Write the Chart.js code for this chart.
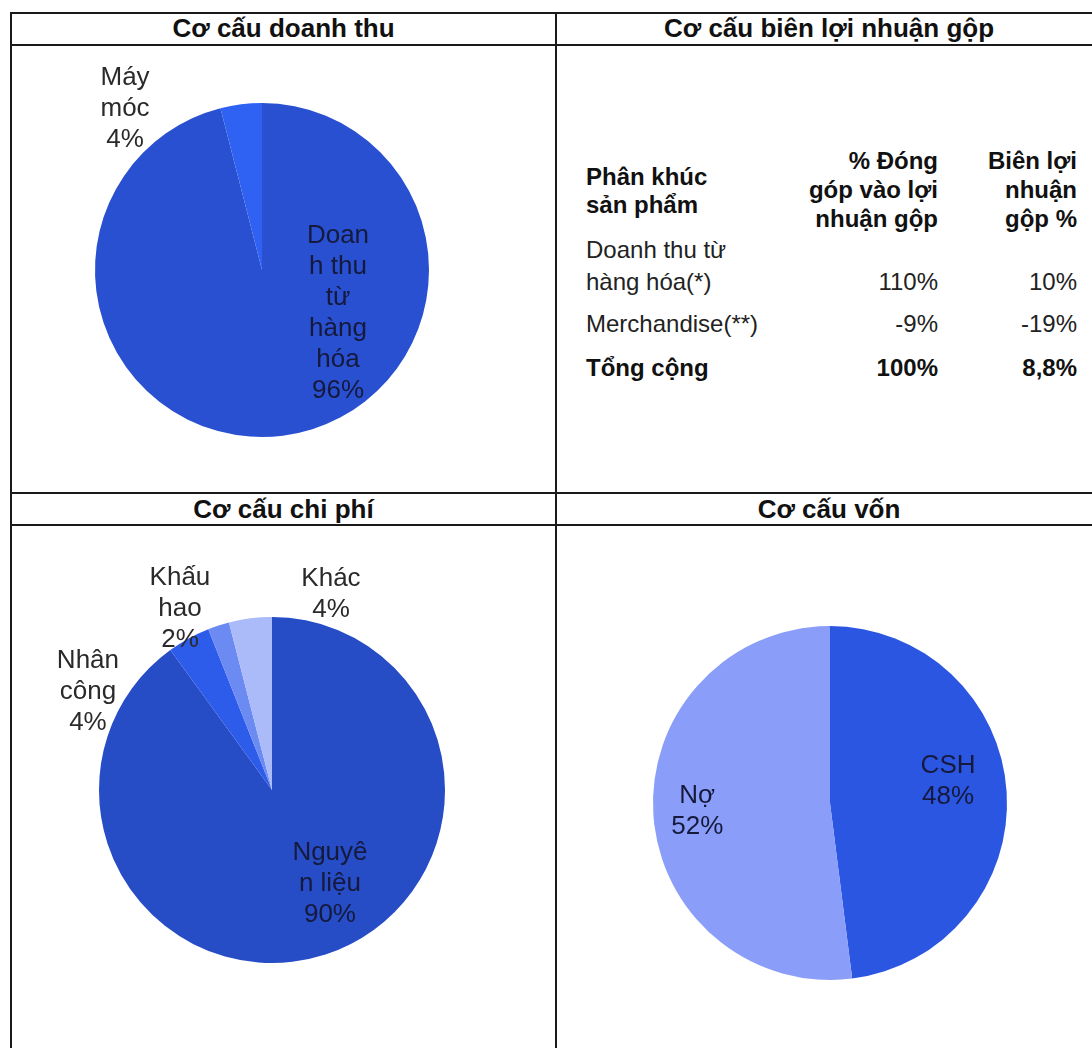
<!DOCTYPE html>
<html>
<head>
<meta charset="utf-8">
<script src="https://cdn.jsdelivr.net/npm/chart.js@4"></script>
<style>
  html, body { margin:0; padding:0; background:#fff; }
  body { width:1092px; height:1048px; overflow:hidden; position:relative; font-family:"Liberation Sans", Arial, sans-serif; color:#1e1e1e; }
  .ln { position:absolute; background:#1a1a1a; }
  .title { position:absolute; text-align:center; font-weight:bold; font-size:26px; line-height:31px; white-space:nowrap; color:#111; }
  canvas { position:absolute; }
  .cell { position:absolute; font-size:24px; line-height:29px; white-space:nowrap; color:#222; }
  .b { font-weight:bold; color:#111; }
</style>
</head>
<body>
<!-- frame -->
<div class="ln" style="left:10px; top:12px; width:1082px; height:2px;"></div>
<div class="ln" style="left:10px; top:44px; width:1082px; height:2px;"></div>
<div class="ln" style="left:10px; top:492px; width:1082px; height:2px;"></div>
<div class="ln" style="left:10px; top:524px; width:1082px; height:1.5px;"></div>
<div class="ln" style="left:10px; top:12px; width:2px; height:1036px;"></div>
<div class="ln" style="left:555px; top:12px; width:2px; height:1036px;"></div>

<div class="title" style="left:12px; width:543px; top:13px;" id="t1"></div>
<div class="title" style="left:557px; width:544px; top:13px;" id="t2"></div>
<div class="title" style="left:12px; width:543px; top:494px;" id="t3"></div>
<div class="title" style="left:557px; width:544px; top:494px;" id="t4"></div>

<canvas id="c1" width="543" height="445" style="left:12px; top:47px;"></canvas>
<canvas id="c2" width="543" height="522" style="left:12px; top:526px;"></canvas>
<canvas id="c3" width="535" height="522" style="left:557px; top:526px;"></canvas>

<div id="tbl"></div>

<script>
// ---------- DATA ----------
const panelTitles = ['Cơ cấu doanh thu', 'Cơ cấu biên lợi nhuận gộp', 'Cơ cấu chi phí', 'Cơ cấu vốn'];

const revenueLabels = ['Doanh thu từ hàng hóa', 'Máy móc'];
const revenueValues = [96, 4];
const revenueLabelLines = [['Doan', 'h thu', 'từ', 'hàng', 'hóa'], ['Máy', 'móc']];

const costLabels = ['Nguyên liệu', 'Nhân công', 'Khấu hao', 'Khác'];
const costValues = [90, 4, 2, 4];
const costLabelLines = [['Nguyê', 'n liệu'], ['Nhân', 'công'], ['Khấu', 'hao'], ['Khác']];

const capitalLabels = ['CSH', 'Nợ'];
const capitalValues = [48, 52];
const capitalLabelLines = [['CSH'], ['Nợ']];

const tableHeaders = [['Phân khúc', 'sản phẩm'], ['% Đóng', 'góp vào lợi', 'nhuận gộp'], ['Biên lợi', 'nhuận', 'gộp %']];
const tableSegments = [['Doanh thu từ', 'hàng hóa(*)'], ['Merchandise(**)'], ['Tổng cộng']];
const tableContribution = ['110%', '-9%', '100%'];
const tableMargin = ['10%', '-19%', '8,8%'];

// ---------- STYLE ----------
const revenueColors = ['#2950D0', '#2F62F3'];
const costColors = ['#264CC6', '#2D5BEA', '#6B8BF2', '#ABBAF9'];
const capitalColors = ['#2B56E2', '#8A9DF9'];

// label offsets as fraction of radius (dx, dy) from the pie centre, and whether inside
const revenueLabelPos = [[0.455, 0.26, true], [-0.82, -0.965, false]];
const costLabelPos = [[0.335, 0.545, true], [-1.064, -0.566, false], [-0.532, -1.046, false], [0.341, -1.133, false]];
const capitalLabelPos = [[0.667, -0.124, true], [-0.75, 0.045, true]];

document.getElementById('t1').textContent = panelTitles[0];
document.getElementById('t2').textContent = panelTitles[1];
document.getElementById('t3').textContent = panelTitles[2];
document.getElementById('t4').textContent = panelTitles[3];

// ---------- TABLE ----------
(function(){
  const tbl = document.getElementById('tbl');
  function add(text, left, top, width, cls, align) {
    const d = document.createElement('div');
    d.className = 'cell ' + cls;
    d.style.left = left + 'px';
    d.style.top = (top - 14.5) + 'px';
    if (width) { d.style.width = width + 'px'; d.style.textAlign = align || 'left'; }
    d.textContent = text;
    tbl.appendChild(d);
  }
  const colLeft = 586, col2Right = 938, col3Right = 1077;
  const hdrY = [[176, 204], [160, 189, 218], [160, 189, 218]];
  tableHeaders[0].forEach((t, i) => add(t, colLeft, hdrY[0][i], 0, 'b'));
  tableHeaders[1].forEach((t, i) => add(t, col2Right - 200, hdrY[1][i], 200, 'b', 'right'));
  tableHeaders[2].forEach((t, i) => add(t, col3Right - 200, hdrY[2][i], 200, 'b', 'right'));
  const rowY = [[249, 281], [323], [367]];
  tableSegments.forEach((lines, r) => {
    const bold = r === tableSegments.length - 1 ? 'b' : '';
    lines.forEach((t, i) => add(t, colLeft, rowY[r][i], 0, bold));
    const vy = rowY[r][rowY[r].length - 1];
    add(tableContribution[r], col2Right - 200, vy, 200, bold, 'right');
    add(tableMargin[r], col3Right - 200, vy, 200, bold, 'right');
  });
})();

// ---------- PIES ----------
const labelPlugin = {
  id: 'pieLabels',
  afterDatasetsDraw(chart, args, opts) {
    const ctx = chart.ctx;
    const meta = chart.getDatasetMeta(0);
    const vals = chart.data.datasets[0].data;
    ctx.save();
    ctx.font = '26px "Liberation Sans", Arial, sans-serif';
    ctx.textAlign = 'center';
    ctx.textBaseline = 'middle';
    meta.data.forEach((arc, i) => {
      const p = arc.getProps(['x', 'y', 'outerRadius'], true);
      const [fx, fy, inside] = opts.pos[i];
      const lines = opts.lines[i].concat([vals[i] + '%']);
      const lh = 31;
      const x = p.x + fx * p.outerRadius;
      const y0 = p.y + fy * p.outerRadius - (lines.length - 1) * lh / 2;
      ctx.fillStyle = inside ? '#151a3c' : '#2a2a2a';
      lines.forEach((t, k) => ctx.fillText(t, x, y0 + k * lh));
    });
    ctx.restore();
  }
};

function makePie(id, labels, values, colors, lineArr, posArr, geo) {
  const cv = document.getElementById(id);
  const L = parseFloat(cv.style.left), T = parseFloat(cv.style.top);
  const W = cv.width, H = cv.height;
  const pad = {
    left: geo.cx - geo.r - L,
    top: geo.cy - geo.r - T,
    right: L + W - (geo.cx + geo.r),
    bottom: T + H - (geo.cy + geo.r)
  };
  new Chart(cv, {
    type: 'pie',
    data: { labels: labels, datasets: [{ data: values, backgroundColor: colors, borderWidth: 0, hoverOffset: 0 }] },
    options: {
      responsive: false,
      animation: false,
      layout: { padding: pad },
      plugins: {
        legend: { display: false },
        tooltip: { enabled: false },
        pieLabels: { lines: lineArr, pos: posArr }
      }
    },
    plugins: [labelPlugin]
  });
}

makePie('c1', revenueLabels, revenueValues, revenueColors, revenueLabelLines, revenueLabelPos, { cx: 262, cy: 270, r: 167 });
makePie('c2', costLabels, costValues, costColors, costLabelLines, costLabelPos, { cx: 272, cy: 790, r: 173 });
makePie('c3', capitalLabels, capitalValues, capitalColors, capitalLabelLines, capitalLabelPos, { cx: 830, cy: 803, r: 177 });
</script>
</body>
</html>
